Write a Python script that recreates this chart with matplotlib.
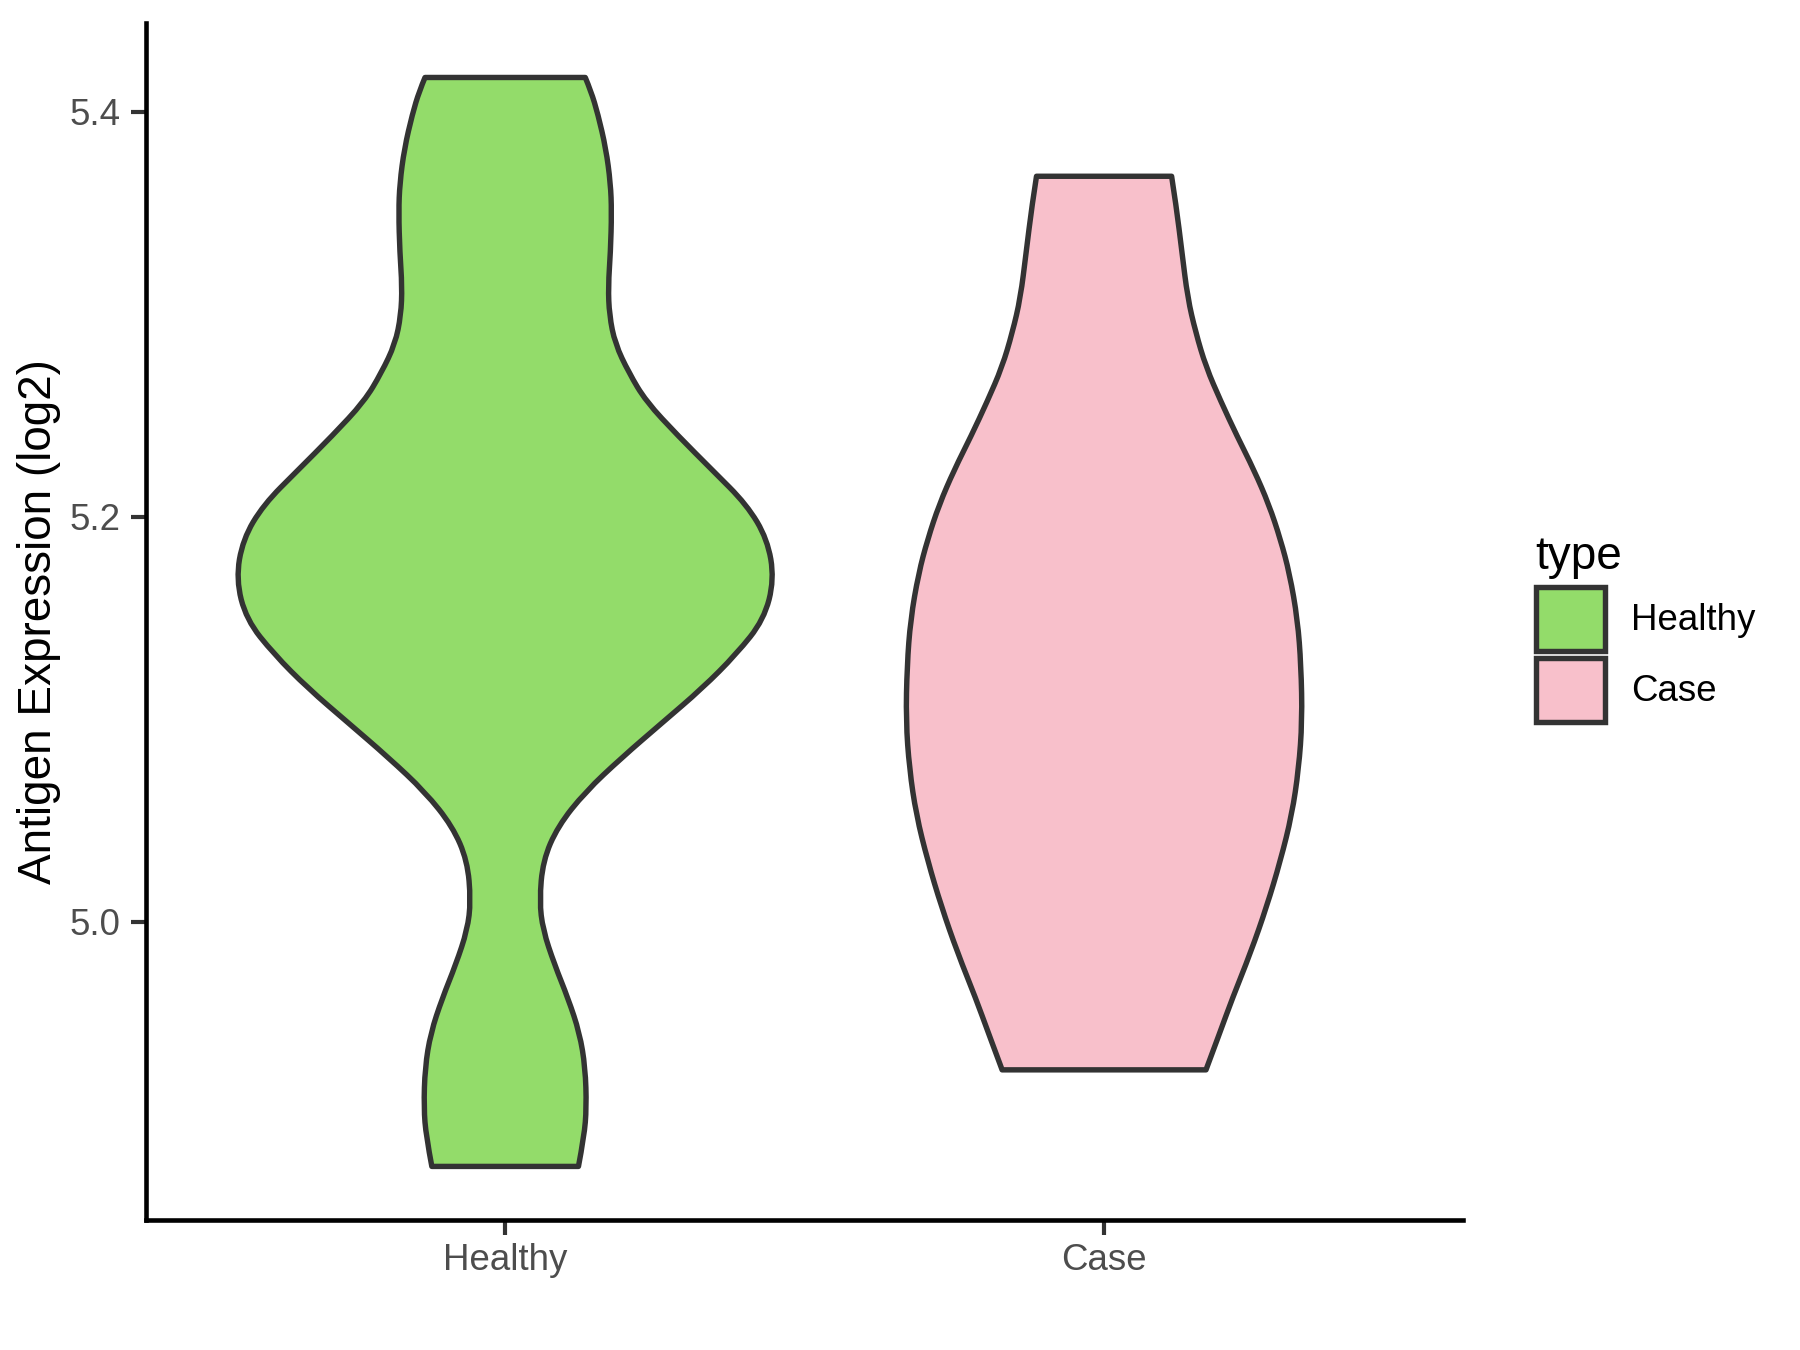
import numpy as np
import matplotlib.pyplot as plt
from matplotlib.patches import Patch, PathPatch
from matplotlib.path import Path

plt.rcParams['font.family'] = ['Liberation Sans', 'DejaVu Sans']

groups = ['Healthy', 'Case']
fills = ['#93DC6A', '#F8C0CB']
edge = '#333333'

# violin outlines: expression level and half-width (category units)
healthy_y = [5.4170, 5.4102, 5.3989, 5.3818, 5.3648, 5.3506, 5.3308, 5.3138, 5.2996,
             5.2855, 5.2712, 5.2570, 5.2400, 5.2230, 5.2060, 5.1889, 5.1691, 5.1492,
             5.1322, 5.1152, 5.0982, 5.0811, 5.0641, 5.0471, 5.0301, 5.0102, 4.9960,
             4.9790, 4.9620, 4.9450, 4.9279, 4.9081, 4.8939, 4.8791]
healthy_w = [0.1338, 0.1434, 0.1549, 0.1683, 0.1759, 0.1778, 0.1759, 0.1721, 0.1740,
             0.1836, 0.2065, 0.2352, 0.2887, 0.3461, 0.4034, 0.4379, 0.4493, 0.4321,
             0.3862, 0.3289, 0.2620, 0.1950, 0.1338, 0.0880, 0.0631, 0.0574, 0.0631,
             0.0822, 0.1052, 0.1243, 0.1338, 0.1358, 0.1319, 0.1224]

case_y = [5.3682, 5.3535, 5.3308, 5.3081, 5.2911, 5.2740, 5.2570, 5.2400, 5.2230,
          5.2060, 5.1889, 5.1719, 5.1492, 5.1265, 5.0993, 5.0755, 5.0528, 5.0301,
          5.0074, 4.9847, 4.9620, 4.9450, 4.9268]
case_w = [0.1128, 0.1205, 0.1300, 0.1396, 0.1530, 0.1702, 0.1950, 0.2218, 0.2505,
          0.2753, 0.2945, 0.3098, 0.3231, 0.3289, 0.3308, 0.3250, 0.3136, 0.2945,
          0.2715, 0.2447, 0.2141, 0.1931, 0.1702]

profiles = [(healthy_y, healthy_w), (case_y, case_w)]


def smooth_side(pts, verts, codes):
    # quadratic bezier through midpoints, using the read points as control points
    for k in range(1, len(pts) - 1):
        mid = (pts[k] + pts[k + 1]) / 2 if k < len(pts) - 2 else pts[k + 1]
        verts += [pts[k], mid]
        codes += [Path.CURVE3, Path.CURVE3]


fig = plt.figure(figsize=(6, 4.5), dpi=300)
ax = fig.add_axes([0.081, 0.0961, 0.732, 0.887])

for i, (ys, ws) in enumerate(profiles):
    pos = i + 1
    ys = np.array(ys)
    ws = np.array(ws)
    left = np.column_stack([pos - ws, ys])
    right = np.column_stack([pos + ws, ys])[::-1]
    verts = [left[0]]
    codes = [Path.MOVETO]
    smooth_side(left, verts, codes)
    verts.append(right[0])
    codes.append(Path.LINETO)
    smooth_side(right, verts, codes)
    verts.append(left[0])
    codes.append(Path.CLOSEPOLY)
    patch = PathPatch(Path(verts, codes), facecolor=fills[i], edgecolor=edge,
                      linewidth=1.3, joinstyle='round', zorder=2)
    ax.add_patch(patch)

ax.set_xlim(0.4, 2.6)
ax.set_ylim(4.8525, 5.444)
ax.set_xticks([1, 2])
ax.set_xticklabels(groups)
ax.set_yticks([5.0, 5.2, 5.4])
ax.set_yticklabels(['5.0', '5.2', '5.4'])

for s in ['top', 'right']:
    ax.spines[s].set_visible(False)
for s in ['left', 'bottom']:
    ax.spines[s].set_linewidth(1.1)
    ax.spines[s].set_color('black')

ax.tick_params(axis='both', length=3.5, width=1.0, color='#333333',
               labelcolor='#4D4D4D', labelsize=8.8, pad=2.5)
ax.tick_params(axis='x', pad=2)
ax.set_ylabel('Antigen Expression (log2)', fontsize=11, color='black', labelpad=2)

handles = [Patch(facecolor=fills[i], edgecolor=edge, linewidth=1.3, label=groups[i])
           for i in range(2)]
leg = fig.legend(handles=handles, title='type', loc='upper left',
                 bbox_to_anchor=(0.843, 0.617), frameon=False, fontsize=8.8,
                 title_fontsize=11, handlelength=1.9, handleheight=2.3,
                 labelspacing=0.2, handletextpad=0.7, borderpad=0)
leg._legend_box.align = 'left'

fig.savefig('out.png', dpi=300)
